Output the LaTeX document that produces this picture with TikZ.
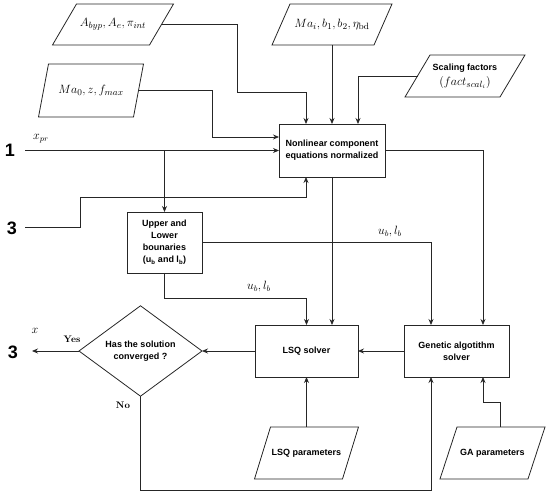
\documentclass[tikz,border=0pt]{standalone}
\usepackage{fontspec}
\setsansfont{Liberation Sans}
\usetikzlibrary{arrows.meta,shapes.geometric,calc}
\tikzset{
  ln/.style={line width=0.8pt, draw=black!85},
  arr/.style={ln, -{Stealth[length=6pt,width=5pt]}},
  box/.style={ln, rectangle, inner sep=0pt, outer sep=0pt, align=center,
    font=\sffamily\bfseries\fontsize{9}{12}\selectfont},
  paratext/.style={rectangle, inner sep=0pt, outer sep=0pt, align=center,
    font=\fontsize{13}{15}\selectfont},
  lab/.style={inner sep=0pt, font=\fontsize{12}{14}\selectfont},
  big/.style={inner sep=0pt, font=\sffamily\bfseries\fontsize{18}{20}\selectfont},
  yn/.style={inner sep=0pt, font=\rmfamily\bfseries\fontsize{9.5}{11}\selectfont},
}
\newcommand\paranode[6]{%
  \node[paratext, minimum width=#3, minimum height=#4] (#1) at (#2) {#6};
  \draw[ln] ([xshift=#5/2]#1.north west) -- ([xshift=#5/2]#1.north east)
    -- ([xshift=-#5/2]#1.south east) -- ([xshift=-#5/2]#1.south west) -- cycle;
}
\begin{document}
\begin{tikzpicture}[x=1pt, y=-1pt]
\useasboundingbox (0,0) rectangle (550,494);

% parallelograms
\paranode{P1}{113,24.5}{97}{41}{24}{$A_{byp}, A_e, \pi_{int}$}
\paranode{P2}{91,90.5}{95}{53}{10}{$Ma_0, z, f_{max}$}
\paranode{P3}{332,24.5}{102}{41}{18}{$Ma_i, b_1, b_2, \eta_{\mathrm{bd}}$}
\paranode{P4}{465,76}{95}{42}{25}{{\sffamily\bfseries\fontsize{9}{12}\selectfont Scaling factors}\\[0pt]$(fact_{scal_i})$}
\paranode{LSQP}{306.5,453}{88}{52}{16}{{\sffamily\bfseries\fontsize{9}{12}\selectfont LSQ parameters}}
\paranode{GAP}{492.5,453}{88}{52}{17}{{\sffamily\bfseries\fontsize{9}{12}\selectfont GA parameters}}

% boxes
\node[box, draw, minimum width=106, minimum height=53] (NL) at (332,150.5) {Nonlinear component\\equations normalized};
\node[box, draw, minimum width=75, minimum height=61] (UL) at (164.5,242.5) {Upper and\\Lower\\bounaries\\(u\textsubscript{b} and l\textsubscript{b})};
\node[box, draw, minimum width=103, minimum height=52] (LSQ) at (306.5,351) {LSQ solver};
\node[box, draw, minimum width=105, minimum height=52] (GA) at (456.5,351) {Genetic algotithm\\solver};
\node[box, draw, diamond, minimum width=123, minimum height=74] (D) at (140.5,351) {Has the solution\\converged ?};

% side labels
\node[big] (n1) at (10,150) {1};
\node[big] (n3a) at (12,228) {3};
\node[big] (n3b) at (13,352) {3};
\coordinate (in1) at (25,150.5);
\coordinate (in3) at (25,227);
\coordinate (out3) at (32,351);

% connectors
\draw[arr] (P1.east) -- (237,24.5) -- (237,92) -| ([xshift=-26pt]NL.north);
\draw[arr] (P3.south) -- (NL.north);
\draw[arr] (P4.west) -| ([xshift=26pt]NL.north);
\draw[arr] (P2.east) -- (212,90.5) |- ([yshift=13.5pt]NL.west);
\draw[arr] (in1) -- (NL.west);
\node[lab] (xpr) at (41,139) {$x_{pr}$};
\draw[arr] (UL.north |- in1) -- (UL.north);
\draw[arr] (in3) -- (80,227) -- (80,197) -| ([xshift=-26pt]NL.south);
\draw[arr] (NL.south) -- (NL.south |- LSQ.north);
\draw[arr] (NL.east) -| ([xshift=26.5pt]GA.north);
\draw[arr] (UL.east) -| ([xshift=-25.5pt]GA.north);
\node[lab] (ub1) at (390,232) {$u_b, l_b$};
\draw[arr] (UL.south) -- (164.5,298) -| (LSQ.north);
\node[lab] (ub2) at (259,287) {$u_b, l_b$};
\draw[arr] (GA.west) -- (LSQ.east);
\draw[arr] (LSQ.west) -- (D.east);
\draw[arr] (D.west) -- (out3);
\node[yn] (yes) at (72,339) {Yes};
\node[lab] (xo) at (35,331) {$x$};
\draw[arr] (D.south) -- (140.5,490) -| ([xshift=-25.5pt]GA.south);
\node[yn] (no) at (123,405) {No};
\draw[arr] (LSQP.north) -- (LSQ.south);
\draw[arr] ([xshift=7.5pt]GAP.north) |- (483,402) -- ([xshift=26.5pt]GA.south);
\end{tikzpicture}
\end{document}
